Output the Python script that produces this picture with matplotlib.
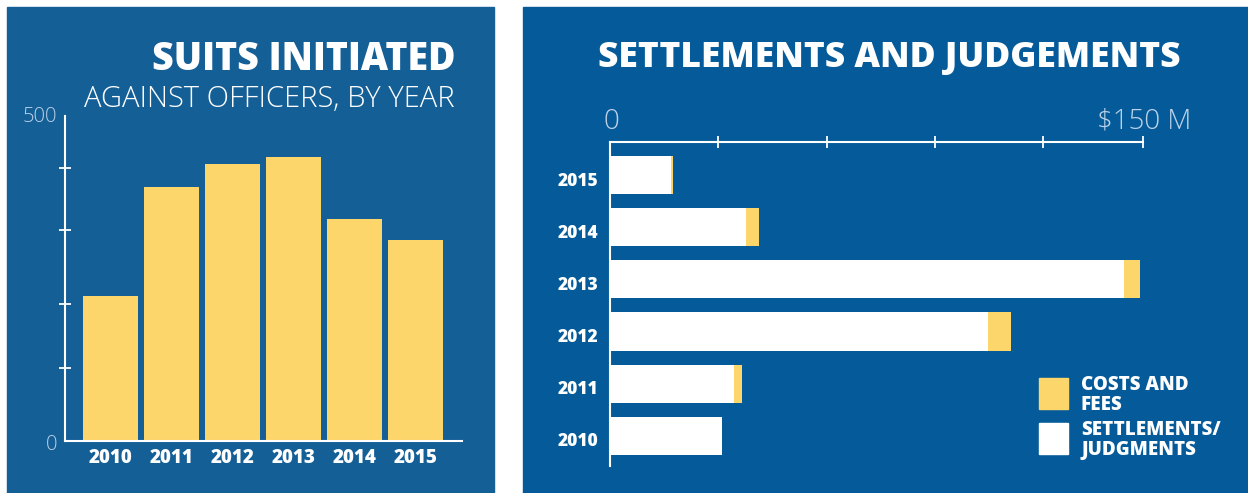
import matplotlib
matplotlib.use("Agg")
import matplotlib.pyplot as plt
import matplotlib.transforms as mtransforms
from matplotlib.patches import Rectangle

# ── Data ──────────────────────────────────────────────────────────────────────
years        = ["2010", "2011", "2012", "2013", "2014", "2015"]
suits        = [223, 391, 426, 437, 342, 309]
settlements  = [31.7, 35.1, 106.3, 144.7, 38.4, 17.4]   # $M
costs_fees   = [0.0, 2.2, 6.6, 4.5, 3.5, 0.4]           # $M

# ── Style ─────────────────────────────────────────────────────────────────────
W, H = 1248, 493
BLUE_L = "#155f97"
BLUE_R = "#055b99"
YELLOW = "#fcd66a"
PALE   = "#bcd2e8"
plt.rcParams["font.family"] = ["Open Sans", "DejaVu Sans"]

def fx(x):
    return x / W

def fy(y):
    return 1 - y / H

def box(x0, y0, x1, y1):
    return [fx(x0), fy(y1), (x1 - x0) / W, (y1 - y0) / H]

fig = plt.figure(figsize=(W / 100, H / 100), dpi=100)
fig.patch.set_facecolor("white")
fig.patches.append(Rectangle((fx(7), fy(493)), (494 - 7) / W, (493 - 7) / H,
                             transform=fig.transFigure, color=BLUE_L, zorder=-10))
fig.patches.append(Rectangle((fx(523), fy(493)), (W - 523) / W, (493 - 7) / H,
                             transform=fig.transFigure, color=BLUE_R, zorder=-10))

# ── Left: suits initiated ─────────────────────────────────────────────────────
ax1 = fig.add_axes(box(65, 116, 462, 441))
ax1.patch.set_alpha(0)
ax1.bar(range(len(years)), suits, width=0.9, color=YELLOW)
ax1.set_xlim(-0.746, 5.762)
ax1.set_ylim(0, 500)
for s in ["top", "right"]:
    ax1.spines[s].set_visible(False)
for s in ["left", "bottom"]:
    ax1.spines[s].set_color("white")
    ax1.spines[s].set_linewidth(1.5)
ax1.set_yticks([112, 211, 325, 420])
ax1.set_yticklabels([])
ax1.tick_params(axis="y", direction="inout", length=8, width=1.3, color="white")
ax1.set_xticks(range(len(years)))
ax1.set_xticklabels(years, fontsize=13.5, fontweight="heavy", color="white")
ax1.tick_params(axis="x", length=0, pad=5)

fig.text(fx(57), fy(117), "500", ha="right", va="center", fontsize=14.5,
         fontweight="light", color=PALE)
fig.text(fx(57), fy(445), "0", ha="right", va="center", fontsize=14.5,
         fontweight="light", color=PALE)
fig.text(fx(455), fy(70), "SUITS INITIATED", ha="right", va="baseline",
         fontsize=27, fontweight="heavy", color="white")
fig.text(fx(455), fy(107), "AGAINST OFFICERS, BY YEAR", ha="right",
         va="baseline", fontsize=21, fontweight="light", color="white")

# ── Right: settlements and judgements ─────────────────────────────────────────
ax2 = fig.add_axes(box(609.6, 141.7, 1143, 466))
ax2.patch.set_alpha(0)
pos = range(len(years))
ax2.barh(pos, settlements, height=0.73, color="white")
ax2.barh(pos, costs_fees, left=settlements, height=0.73, color=YELLOW)
ax2.set_xlim(0, 150)
ax2.set_ylim(-0.58, 5.64)
for s in ["bottom", "right"]:
    ax2.spines[s].set_visible(False)
for s in ["left", "top"]:
    ax2.spines[s].set_color("white")
    ax2.spines[s].set_linewidth(1.5)
ax2.xaxis.tick_top()
ax2.set_xticks([30.5, 61, 91.5, 122, 150])
ax2.set_xticklabels([])
ax2.tick_params(axis="x", direction="inout", length=8, width=1.3, color="white")
ax2.set_yticks(list(pos))
ax2.set_yticklabels(years, fontsize=12.5, fontweight="heavy", color="white")
ax2.tick_params(axis="y", length=0, pad=8)
# labels sit a few pixels below the bar centres in the original
shift = mtransforms.ScaledTranslation(0, -4 / 100, fig.dpi_scale_trans)
for lbl in ax2.get_yticklabels():
    lbl.set_transform(lbl.get_transform() + shift)

fig.text(fx(611), fy(122), "0", ha="center", va="center", fontsize=20,
         fontweight="light", color=PALE)
fig.text(fx(1191), fy(122), "$150 M", ha="right", va="center", fontsize=20,
         fontweight="light", color=PALE)
fig.text(fx(889), fy(67), "SETTLEMENTS AND JUDGEMENTS", ha="center",
         va="baseline", fontsize=25.5, fontweight="heavy", color="white")

# legend
fig.patches.append(Rectangle((fx(1038.6), fy(409)), 29.7 / W, 31.3 / H,
                             transform=fig.transFigure, color=YELLOW))
fig.patches.append(Rectangle((fx(1038.6), fy(454)), 29.7 / W, 31.3 / H,
                             transform=fig.transFigure, color="white"))
fig.text(fx(1081), fy(375), "COSTS AND\nFEES", ha="left", va="top",
         fontsize=13.5, fontweight="heavy", color="white", linespacing=1.0)
fig.text(fx(1081), fy(420), "SETTLEMENTS/\nJUDGMENTS", ha="left", va="top",
         fontsize=13.5, fontweight="heavy", color="white", linespacing=1.0)

fig.savefig("out.png", dpi=100)
